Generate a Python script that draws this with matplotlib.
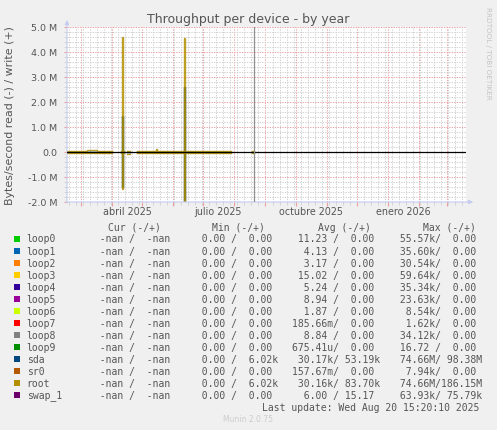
import matplotlib
matplotlib.use("Agg")
import matplotlib.pyplot as plt
import matplotlib.dates as mdates
import matplotlib.transforms as mtransforms
from matplotlib.patches import Rectangle
from matplotlib.ticker import MultipleLocator, FuncFormatter
import numpy as np
import pandas as pd

W, H = 497, 431

title = "Throughput per device - by year"
ylabel = "Bytes/second read (-) / write (+)"
x_start = "2025-02-15"
x_end = "2026-03-20"
last_update_time = "2025-08-20 15:20:10"

# x tick labels (rrdtool centres month labels mid-month)
xlabel_dates = ["2025-04-16", "2025-07-16", "2025-10-16", "2026-01-16"]
xlabel_texts = ["abril 2025", "julio 2025", "octubre 2025", "enero 2026"]

# sampled series (bytes/second); NaN = no data
sample_dates = [
    "2025-02-15", "2025-02-25", "2025-03-07", "2025-03-17", "2025-03-19",
    "2025-03-20", "2025-03-22", "2025-03-23", "2025-03-24", "2025-03-27",
    "2025-03-28", "2025-03-29", "2025-03-31", "2025-04-01",
    "2025-04-10", "2025-04-11", "2025-04-12", "2025-04-13",
    "2025-04-16", "2025-04-19",
    "2025-04-26", "2025-05-06", "2025-05-14", "2025-05-15", "2025-05-16",
    "2025-05-26", "2025-06-05", "2025-06-11", "2025-06-12", "2025-06-13",
    "2025-06-15", "2025-06-25", "2025-07-05", "2025-07-15", "2025-07-28",
    "2025-07-29", "2025-08-19", "2025-08-20", "2025-08-21",
]
nan = float("nan")
root_write = [
    60e3, 55e3, 65e3, 50e3, nan,
    50e3, 50e3, nan, 45e3, 45e3,
    nan, 50e3, 50e3, nan,
    50e3, 4.59e6, 50e3, nan,
    30e3, nan,
    60e3, 55e3, 60e3, 0.12e6, 55e3,
    60e3, 55e3, 50e3, 4.56e6, 50e3,
    55e3, 60e3, 50e3, 55e3, 50e3,
    nan, 60e3, 60e3, nan,
]
root_read = [
    -30e3, -25e3, -30e3, -20e3, nan,
    -20e3, -20e3, nan, -20e3, -20e3,
    nan, -20e3, -20e3, nan,
    -20e3, -1.48e6, -20e3, nan,
    -80e3, nan,
    -25e3, -25e3, -25e3, -40e3, -25e3,
    -25e3, -25e3, -20e3, -2.0e6, -20e3,
    -25e3, -25e3, -20e3, -25e3, -20e3,
    nan, -20e3, -20e3, nan,
]
sda_write = [
    8e3, 8e3, 8e3, 6e3, nan,
    6e3, 6e3, nan, 6e3, 6e3,
    nan, 6e3, 6e3, nan,
    6e3, 1.45e6, 6e3, nan,
    5e3, nan,
    8e3, 8e3, 8e3, 10e3, 8e3,
    8e3, 8e3, 6e3, 2.59e6, 6e3,
    8e3, 8e3, 6e3, 8e3, 6e3,
    nan, 8e3, 8e3, nan,
]
sda_read = [
    -5e3, -5e3, -5e3, -5e3, nan,
    -5e3, -5e3, nan, -5e3, -5e3,
    nan, -5e3, -5e3, nan,
    -5e3, -1.40e6, -5e3, nan,
    -10e3, nan,
    -5e3, -5e3, -5e3, -8e3, -5e3,
    -5e3, -5e3, -5e3, -1.95e6, -5e3,
    -5e3, -5e3, -5e3, -5e3, -5e3,
    nan, -5e3, -5e3, nan,
]

# legend table
names = ["loop0", "loop1", "loop2", "loop3", "loop4", "loop5", "loop6",
         "loop7", "loop8", "loop9", "sda", "sr0", "root", "swap_1"]
colors = ["#00CC00", "#0066B3", "#FF8000", "#FFCC00", "#330099", "#990099",
          "#CCFF00", "#FF0000", "#808080", "#008F00", "#00487D", "#B35A00",
          "#B38F00", "#6B006B"]
cur_col = ["  -nan /  -nan "] * 14
min_col = ["  0.00 /  0.00 "] * 10 + ["  0.00 /  6.02k", "  0.00 /  0.00 ",
                                      "  0.00 /  6.02k", "  0.00 /  0.00 "]
avg_col = [" 11.23 /  0.00 ", "  4.13 /  0.00 ", "  3.17 /  0.00 ",
           " 15.02 /  0.00 ", "  5.24 /  0.00 ", "  8.94 /  0.00 ",
           "  1.87 /  0.00 ", "185.66m/  0.00 ", "  8.84 /  0.00 ",
           "675.41u/  0.00 ", " 30.17k/ 53.19k", "157.67m/  0.00 ",
           " 30.16k/ 83.70k", "  6.00 / 15.17 "]
max_col = [" 55.57k/  0.00 ", " 35.60k/  0.00 ", " 30.54k/  0.00 ",
           " 59.64k/  0.00 ", " 35.34k/  0.00 ", " 23.63k/  0.00 ",
           "  8.54k/  0.00 ", "  1.62k/  0.00 ", " 34.12k/  0.00 ",
           " 16.72 /  0.00 ", " 74.66M/ 98.38M", "  7.94k/  0.00 ",
           " 74.66M/186.15M", " 63.93k/ 75.79k"]
headers = ["Cur (-/+)", "Min (-/+)", "Avg (-/+)", "Max (-/+)"]

# ---------------------------------------------------------------------------
TXT = "#555555"
MGRID = "#eba0a0"
GRID = "#cfcfcf"
AXISC = "#c4ccf0"

def fx(x):
    return x / W

def fy(y):
    return 1 - y / H

fig = plt.figure(figsize=(W / 100, H / 100), dpi=100, facecolor="#F0F0F0")
ax = fig.add_axes([fx(67), fy(203), (466 - 67) / W, (203 - 28) / H])
ax.set_facecolor("white")

t = mdates.date2num(pd.to_datetime(sample_dates))
series = [
    (sda_write, colors[names.index("sda")], 1.0),
    (sda_read, colors[names.index("sda")], 1.0),
    (root_write, colors[names.index("root")], 0.85),
    (root_read, colors[names.index("root")], 0.85),
]
for vals, c, a in series:
    ax.plot(t, np.array(vals, dtype=float), drawstyle="steps-post", color=c,
            lw=1.0, alpha=a, zorder=3, solid_joinstyle="miter")

ax.axhline(0, color="black", lw=0.9, zorder=4)
ax.axvline(mdates.date2num(pd.Timestamp(last_update_time)), color="#8f8f8f",
           lw=0.9, zorder=4)

ax.set_xlim(mdates.date2num(pd.Timestamp(x_start)),
            mdates.date2num(pd.Timestamp(x_end)))
ax.set_ylim(-2.0e6, 5.0e6)

ax.xaxis.set_major_locator(mdates.MonthLocator())
ax.xaxis.set_minor_locator(mdates.WeekdayLocator(byweekday=mdates.MO))
ax.xaxis.set_major_formatter(FuncFormatter(lambda v, p: ""))
ax.yaxis.set_major_locator(MultipleLocator(1e6))
ax.yaxis.set_minor_locator(MultipleLocator(2e5))

def yfmt(v, p):
    if abs(v) < 1:
        return "0.0"
    return f"{v / 1e6:.1f} M"

ax.yaxis.set_major_formatter(FuncFormatter(yfmt))
ax.tick_params(axis="y", which="major", length=2, color=MGRID, labelsize=6.8,
               labelcolor=TXT, pad=5)
ax.tick_params(axis="y", which="minor", length=2, color=GRID)
ax.tick_params(axis="x", which="major", length=3, color=MGRID)
ax.tick_params(axis="x", which="minor", length=2, color=GRID)

ax.grid(which="minor", color=GRID, lw=0.7, linestyle=(0, (1.3, 1.3)))
ax.grid(which="major", color=MGRID, lw=0.7, linestyle=(0, (1.3, 1.3)))
ax.set_axisbelow(True)
for s in ax.spines.values():
    s.set_visible(False)

# axes with arrows
ax.annotate("", xy=(0, 1.04), xytext=(0, 0), xycoords="axes fraction",
            arrowprops=dict(arrowstyle="-|>", color=AXISC, lw=0.8,
                            mutation_scale=6, shrinkA=0, shrinkB=0),
            annotation_clip=False)
ax.annotate("", xy=(1.018, 0), xytext=(-0.003, 0), xycoords="axes fraction",
            arrowprops=dict(arrowstyle="-|>", color=AXISC, lw=0.8,
                            mutation_scale=6, shrinkA=0, shrinkB=0),
            annotation_clip=False)

trans = mtransforms.blended_transform_factory(ax.transData, fig.transFigure)
for d, lab in zip(xlabel_dates, xlabel_texts):
    ax.text(mdates.date2num(pd.Timestamp(d)), fy(212), lab, transform=trans,
            ha="center", va="center", fontsize=6.9, color=TXT)

fig.text(fx(248), fy(19), title, ha="center", va="center", fontsize=9,
         color=TXT)
fig.text(fx(10), fy(116), ylabel, rotation=90, ha="center", va="center",
         fontsize=7.9, color=TXT)
fig.text(fx(488), fy(53), "RRDTOOL / TOBI OETIKER", rotation=270,
         ha="center", va="center", fontsize=5.2, color="#c4c4c4")

# legend
mono = "DejaVu Sans Mono"
LFS = 7.05
header_x = [107.7, 212.0, 318.0, 422.7]
col_x = [88.3, 190.0, 292.3, 394.1]
for hx, htxt in zip(header_x, headers):
    fig.text(fx(hx), fy(228), htxt, ha="left", va="center", family=mono,
             fontsize=LFS, color=TXT)
for i, name in enumerate(names):
    yc = 239.5 + i * 12.02
    fig.patches.append(Rectangle((fx(14), fy(yc + 3)), 6 / W, 6 / H,
                                 transform=fig.transFigure,
                                 facecolor=colors[i], edgecolor="none"))
    fig.text(fx(26.7), fy(yc), name, ha="left", va="center", family=mono,
             fontsize=LFS, color=TXT)
    for cx, col in zip(col_x, [cur_col, min_col, avg_col, max_col]):
        fig.text(fx(cx), fy(yc), col[i], ha="left", va="center", family=mono,
                 fontsize=LFS, color=TXT)

lu = pd.Timestamp(last_update_time)
fig.text(fx(261.7), fy(407.7), "Last update: " + lu.strftime("%a %b %d %H:%M:%S %Y"),
         ha="left", va="center", family=mono, fontsize=LFS, color=TXT)
fig.text(fx(248), fy(420), "Munin 2.0.75", ha="center", va="center",
         fontsize=5.5, color="#cccccc")

fig.savefig("out.png", dpi=100, facecolor=fig.get_facecolor())
